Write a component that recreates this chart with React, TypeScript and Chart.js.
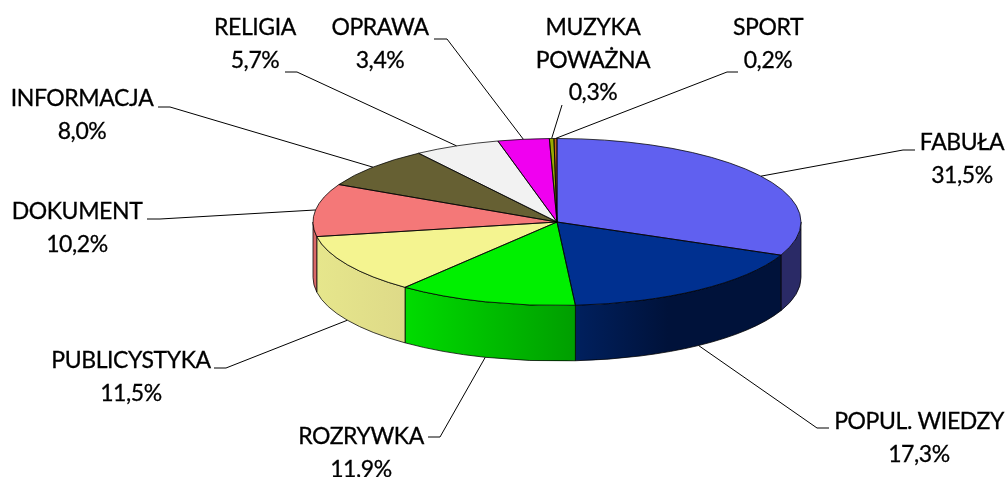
import React, { useEffect, useRef } from "react";
import { Chart, registerables } from "chart.js";

Chart.register(...registerables);

const categories = ["FABUŁA", "POPUL. WIEDZY", "ROZRYWKA", "PUBLICYSTYKA", "DOKUMENT", "INFORMACJA", "RELIGIA", "OPRAWA", "MUZYKA POWAŻNA", "SPORT"];
const values = [31.5, 17.3, 11.9, 11.5, 10.2, 8.0, 5.7, 3.4, 0.3, 0.2];
const topColors = ["#6060F0", "#003090", "#00F000", "#F4F490", "#F47878", "#666033", "#F2F2F2", "#F000F0", "#99AA00", "#C06020"];
const wallLeft = ["#2A2A66", "#00205E", "#00DC00", "#E6E68C", "#D96868", "#4A4624", "#B0B0B0", "#A000A0", "#667000", "#804010"];
const wallRight = ["#2A2A66", "#00123A", "#009E00", "#DEDA88", "#D96868", "#4A4624", "#B0B0B0", "#A000A0", "#667000", "#804010"];
const labelLines = [["FABUŁA", "31,5%"], ["POPUL. WIEDZY", "17,3%"], ["ROZRYWKA", "11,9%"], ["PUBLICYSTYKA", "11,5%"], ["DOKUMENT", "10,2%"], ["INFORMACJA", "8,0%"], ["RELIGIA", "5,7%"], ["OPRAWA", "3,4%"], ["MUZYKA", "POWAŻNA", "0,3%"], ["SPORT", "0,2%"]];

// label layout: text centre x, first-row centre y, leader elbow, leader end
const labelX = [962, 919, 361, 131, 77, 82, 255, 380, 593, 768];
const labelY = [143, 422, 437, 361, 212, 99, 28, 28, 28, 28];
const elbowX = [903, 817, 440, 226, 160, 170, 297, 447, 562, 727];
const elbowY = [150, 428, 437, 368, 219, 107, 72, 39, 105, 72];
const endX = [915, 829, 428, 214, 147, 158, 285, 434, 562, 738];

const CX = 557;
const CY = 222;
const RX = 244;
const RY = 83.5;
const DEPTH = 55.5;
const ROW = 32.5;

const pie3d = {
  id: "pie3d",
  beforeDatasetsDraw(chart: any) {
    const ctx = chart.ctx;
    const arcs = chart.getDatasetMeta(0).data;
    ctx.save();
    arcs.forEach((arc: any, i: number) => {
      const a = Math.max(arc.startAngle, 0);
      const b = Math.min(arc.endAngle, Math.PI);
      if (b <= a) return;
      const x1 = CX + RX * Math.cos(a);
      const x2 = CX + RX * Math.cos(b);
      const g = ctx.createLinearGradient(Math.min(x1, x2), 0, Math.max(x1, x2), 0);
      if (i === 1) {
        g.addColorStop(0, wallLeft[i]);
        g.addColorStop(0.45, wallRight[i]);
        g.addColorStop(1, wallRight[i]);
      } else {
        g.addColorStop(0, wallLeft[i]);
        g.addColorStop(1, wallRight[i]);
      }
      ctx.beginPath();
      ctx.ellipse(CX, CY, RX, RY, 0, a, b, false);
      ctx.ellipse(CX, CY + DEPTH, RX, RY, 0, b, a, true);
      ctx.closePath();
      ctx.fillStyle = g;
      ctx.fill();
      ctx.strokeStyle = "rgba(0,0,0,0.75)";
      ctx.lineWidth = 1;
      ctx.stroke();
    });
    ctx.restore();
    const arc0 = arcs[0];
    ctx.save();
    ctx.translate(0, CY);
    ctx.scale(1, RY / RX);
    ctx.translate(0, -arc0.y);
  },
  afterDatasetsDraw(chart: any) {
    const ctx = chart.ctx;
    ctx.restore();
    const arcs = chart.getDatasetMeta(0).data;
    ctx.save();
    ctx.strokeStyle = "rgba(0,0,0,0.75)";
    ctx.lineWidth = 1;
    arcs.forEach((arc: any) => {
      ctx.beginPath();
      ctx.moveTo(CX, CY);
      ctx.ellipse(CX, CY, RX, RY, 0, arc.startAngle, arc.endAngle, false);
      ctx.closePath();
      ctx.stroke();
    });
    arcs.forEach((arc: any, i: number) => {
      const mid = (arc.startAngle + arc.endAngle) / 2;
      const onFront = mid > 0 && mid < Math.PI;
      const ax = CX + RX * Math.cos(mid);
      const ay = CY + RY * Math.sin(mid) + (onFront ? DEPTH : 0);
      ctx.beginPath();
      ctx.moveTo(ax, ay);
      ctx.lineTo(elbowX[i], elbowY[i]);
      ctx.lineTo(endX[i], elbowY[i]);
      ctx.strokeStyle = "#000";
      ctx.lineWidth = 1;
      ctx.stroke();
      ctx.fillStyle = "#000";
      ctx.strokeStyle = "#000";
      ctx.lineWidth = 0.3;
      ctx.font = "23px Lato";
      ctx.letterSpacing = "-0.4px";
      ctx.textAlign = "center";
      ctx.textBaseline = "middle";
      labelLines[i].forEach((t, k) => {
        ctx.fillText(t, labelX[i], labelY[i] + k * ROW);
        ctx.strokeText(t, labelX[i], labelY[i] + k * ROW);
      });
    });
    ctx.restore();
  },
};

export default function App() {
  const ref = useRef<HTMLCanvasElement>(null);
  useEffect(() => {
    const chart = new Chart(ref.current!, {
      type: "pie",
      data: {
        labels: categories,
        datasets: [{ data: values, backgroundColor: topColors, borderWidth: 0, radius: RX }],
      },
      options: {
        animation: false,
        responsive: false,
        layout: { padding: { left: 2 * CX - 1006 } },
        plugins: { legend: { display: false }, tooltip: { enabled: false } },
      },
      plugins: [pie3d],
    } as any);
    return () => chart.destroy();
  }, []);
  return (
    <div style={{ position: "absolute", left: 0, top: 0, width: 1006, height: 477 }}>
      <canvas ref={ref} width={1006} height={477} style={{ display: "block" }} />
    </div>
  );
}
